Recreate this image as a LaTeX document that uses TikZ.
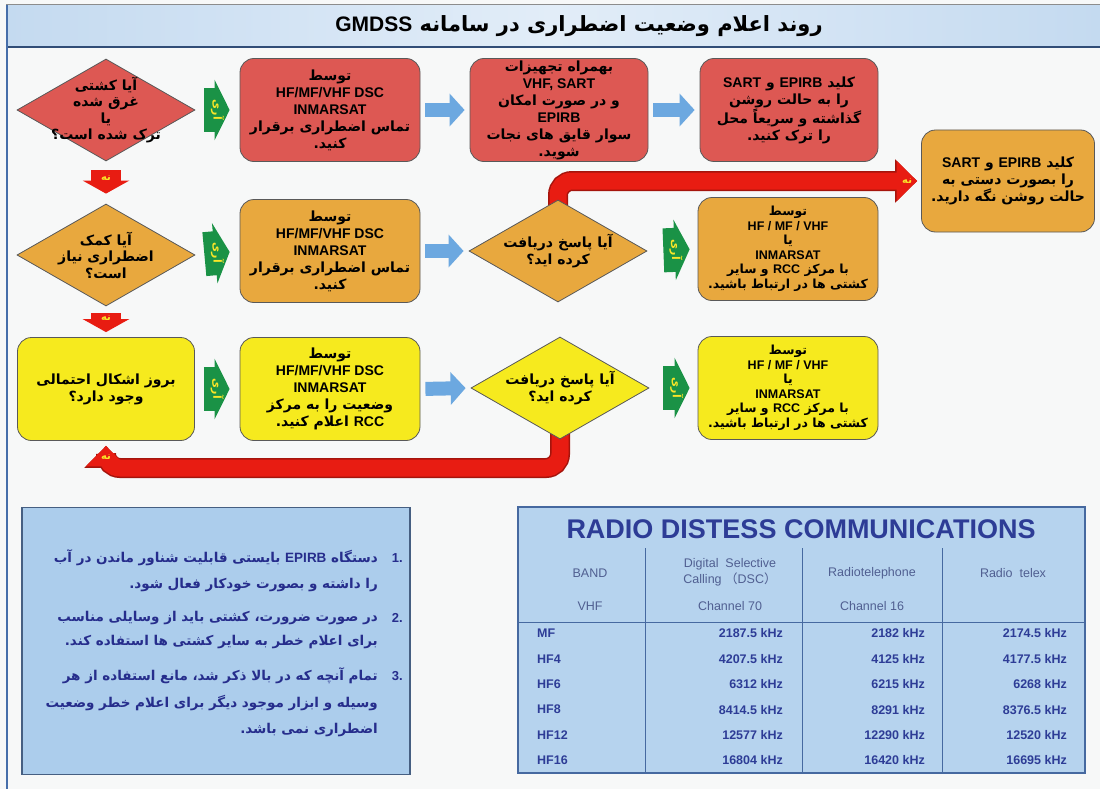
\documentclass[tikz,border=0pt]{standalone}
\usepackage{fontspec}
\setmainfont{Liberation Sans}
\newfontfamily\fa[Script=Arabic]{DejaVu Sans}
\newfontfamily\lat{Liberation Sans}
\newfontfamily\cjk{Noto Sans CJK SC}
\TeXXeTstate=1
\usetikzlibrary{shapes.geometric,arrows.meta}

\newcommand\rtl[1]{\beginR #1\endR}
\newcommand\ltr[1]{\beginL{\lat #1}\endL}

\definecolor{pagebg}{RGB}{247,248,248}
\definecolor{titleblue}{RGB}{196,218,240}
\definecolor{titlelight}{RGB}{226,237,248}
\definecolor{frameblue}{RGB}{70,110,170}
\definecolor{boxred}{RGB}{221,88,83}
\definecolor{boxorange}{RGB}{232,168,62}
\definecolor{boxyellow}{RGB}{246,234,30}
\definecolor{yesgreen}{RGB}{26,146,70}
\definecolor{yeslabel}{RGB}{250,230,40}
\definecolor{noreed}{RGB}{232,28,18}
\definecolor{nodark}{RGB}{165,20,12}
\definecolor{flowblue}{RGB}{108,168,224}
\definecolor{noteblue}{RGB}{172,205,236}
\definecolor{noteborder}{RGB}{70,95,130}
\definecolor{notetxt}{RGB}{38,45,140}
\definecolor{tabfill}{RGB}{182,211,238}
\definecolor{tabline}{RGB}{70,105,160}
\definecolor{tabtxt}{RGB}{45,60,150}
\definecolor{tabhead}{RGB}{80,95,145}

\pgfdeclarelayer{bg}
\pgfdeclarelayer{back}
\pgfsetlayers{bg,back,main}

\begin{document}
\begin{tikzpicture}[x=1pt,y=-1pt,
	box/.style={rectangle,rounded corners=14pt,draw=black!65,line width=0.8pt,
		minimum width=180pt,minimum height=103pt,align=center,inner sep=1pt,
		font=\fa\bfseries\fontsize{14}{17}\selectfont},
	smallbox/.style={box,font=\fa\bfseries\fontsize{12.5}{14.5}\selectfont},
	decision/.style={diamond,draw=black!65,line width=0.8pt,
		minimum width=178pt,minimum height=102pt,inner sep=0pt},
	dtext/.style={align=center,inner sep=0pt,font=\fa\bfseries\fontsize{14}{16.5}\selectfont},
	yes/.style={draw=yesgreen,line width=44pt,-{Triangle[length=15pt,width=60pt]},
		shorten <=9pt,shorten >=10pt},
	yestext/.style={rotate=-90,text=yeslabel,font=\fa\bfseries\fontsize{11}{12}\selectfont},
	no/.style={draw=noreed,line width=30pt,-{Triangle[length=13pt,width=46pt]}},
	longno/.style={draw=noreed,line width=17pt,rounded corners=14pt,
		-{Triangle[length=12pt 0.5,width=22pt 1]},
		preaction={draw=nodark,line width=20pt}},
	notext/.style={text=yeslabel,font=\fa\bfseries\fontsize{10}{11}\selectfont},
	flow/.style={draw=flowblue,line width=14pt,-{Triangle[length=15pt,width=32pt]},
		shorten <=5pt,shorten >=5pt},
	notetext/.style={anchor=east,inner sep=0pt,text=notetxt,
		font=\fa\bfseries\fontsize{13.5}{15}\selectfont},
	notenum/.style={anchor=east,inner sep=0pt,text=notetxt,
		font=\lat\bfseries\fontsize{13}{15}\selectfont},
	head/.style={text=tabhead,align=center,font=\lat\fontsize{12.5}{16}\selectfont},
	cell/.style={text=tabtxt,inner sep=0pt,font=\lat\bfseries\fontsize{12.5}{14}\selectfont}
	]
	\useasboundingbox (0,0) rectangle (1100,789);
	\begin{pgfonlayer}{bg}
		\fill[pagebg] (0,0) rectangle (1100,789);
	\end{pgfonlayer}

	% title bar
	\shade[left color=titleblue,right color=titleblue,middle color=titlelight]
		(6,5) rectangle (1100,47);
	\draw[black!45,line width=1pt] (6,5) -- (1100,5);
	\draw[frameblue!70!black,line width=1.2pt] (6,47) -- (1100,47);
	\draw[frameblue,line width=1.5pt] (7,5) -- (7,789);
	\node[font=\fa\bfseries\fontsize{21}{24}\selectfont] (title) at (579,26)
		{\rtl{روند اعلام وضعیت اضطراری در سامانه \ltr{GMDSS}}};

	% row 1
	\node[decision,fill=boxred] (d1) at (106,110) {};
	\node[dtext] (d1t) at (d1) {\rtl{آیا کشتی}\\ \rtl{غرق شده}\\ \rtl{یا}\\ \rtl{ترک شده است؟}};
	\node[box,fill=boxred] (r1) at (330,110)
		{\rtl{توسط}\\ {\lat HF/MF/VHF DSC}\\ {\lat INMARSAT}\\ \rtl{تماس اضطراری برقرار}\\ \rtl{کنید.}};
	\node[box,fill=boxred,minimum width=178pt] (r2) at (559,110)
		{\rtl{بهمراه تجهیزات}\\ {\lat VHF, SART}\\ \rtl{و در صورت امکان}\\ {\lat EPIRB}\\ \rtl{سوار قایق های نجات}\\ \rtl{شوید.}};
	\node[box,fill=boxred,minimum width=178pt] (r3) at (789,110)
		{\rtl{کلید \ltr{EPIRB} و \ltr{SART}}\\ \rtl{را به حالت روشن}\\ \rtl{گذاشته و سریعاً محل}\\ \rtl{را ترک کنید.}};

	% row 2
	\node[decision,fill=boxorange] (d2) at (106,255) {};
	\node[dtext] (d2t) at (d2) {\rtl{آیا کمک}\\ \rtl{اضطراری نیاز}\\ \rtl{است؟}};
	\node[box,fill=boxorange] (o1) at (330,251)
		{\rtl{توسط}\\ {\lat HF/MF/VHF DSC}\\ {\lat INMARSAT}\\ \rtl{تماس اضطراری برقرار}\\ \rtl{کنید.}};
	\node[decision,fill=boxorange] (d3) at (558,251) {};
	\node[dtext] (d3t) at (d3) {\rtl{آیا پاسخ دریافت}\\ \rtl{کرده اید؟}};
	\node[smallbox,fill=boxorange] (o2) at (788,249)
		{\rtl{توسط}\\ {\lat HF / MF / VHF}\\ \rtl{یا}\\ {\lat INMARSAT}\\ \rtl{با مرکز \ltr{RCC} و سایر}\\ \rtl{کشتی ها در ارتباط باشید.}};
	\node[box,fill=boxorange,minimum width=173pt,minimum height=102pt] (o3) at (1008,181)
		{\rtl{کلید \ltr{EPIRB} و \ltr{SART}}\\ \rtl{را بصورت دستی به}\\ \rtl{حالت روشن نگه دارید.}};

	% row 3
	\node[box,fill=boxyellow,minimum width=177pt] (y1) at (106,389)
		{\rtl{بروز اشکال احتمالی}\\ \rtl{وجود دارد؟}};
	\node[box,fill=boxyellow] (y2) at (330,389)
		{\rtl{توسط}\\ {\lat HF/MF/VHF DSC}\\ {\lat INMARSAT}\\ \rtl{وضعیت را به مرکز}\\ \rtl{\ltr{RCC} اعلام کنید.}};
	\node[decision,fill=boxyellow] (d4) at (560,388) {};
	\node[dtext] (d4t) at (d4) {\rtl{آیا پاسخ دریافت}\\ \rtl{کرده اید؟}};
	\node[smallbox,fill=boxyellow] (y3) at (788,388)
		{\rtl{توسط}\\ {\lat HF / MF / VHF}\\ \rtl{یا}\\ {\lat INMARSAT}\\ \rtl{با مرکز \ltr{RCC} و سایر}\\ \rtl{کشتی ها در ارتباط باشید.}};

	% yes arrows
	\draw[yes] (d1.east) -- (r1.west) node[midway,yestext] (yes1) {\rtl{آری}};
	\draw[yes] (d2.east) -- (o1.west) node[midway,yestext] (yes2) {\rtl{آری}};
	\draw[yes,shorten <=16pt,shorten >=8pt] (d3.east) -- (o2.west)
		node[pos=0.57,yestext] (yes3) {\rtl{آری}};
	\draw[yes] (y1.east) -- (y2.west) node[midway,yestext] (yes4) {\rtl{آری}};
	\draw[yes,shorten <=14pt,shorten >=8pt] (d4.east) -- (y3.west)
		node[pos=0.57,yestext] (yes5) {\rtl{آری}};

	% flow arrows
	\draw[flow] (r1) -- (r2);
	\draw[flow] (r2) -- (r3);
	\draw[flow] (o1.east) -- (d3.west);
	\draw[flow] (y2.east) -- (d4.west);

	% no arrows
	\draw[no,shorten <=9pt,shorten >=10pt] (d1.south) -- (d2.north)
		node[pos=0.4,notext] (no1) {\rtl{نه}};
	\draw[no,shorten <=7pt,shorten >=5pt] (d2.south) -- (y1.north)
		node[pos=0.38,notext] (no2) {\rtl{نه}};
	\begin{pgfonlayer}{back}
		\draw[longno,shorten >=4pt] (d3.center) |- (o3.west)
			node[pos=1,xshift=-14pt,notext] (no3) {\rtl{نه}};
		\draw[longno,shorten >=5pt] (d4.center) -- ++(0,80) -| (y1.south)
			node[pos=1,yshift=-16pt,notext] (no4) {\rtl{نه}};
	\end{pgfonlayer}

	% notes
	\node[draw=noteborder,line width=1.2pt,fill=noteblue,minimum width=388pt,
		minimum height=267pt] (notes) at (216,641) {};
	\node[notenum] (num1) at (403,558) {1.};
	\node[notetext] (n1a) at (378,558) {\rtl{دستگاه \ltr{EPIRB} بایستی قابلیت شناور ماندن در آب}};
	\node[notetext] (n1b) at (378,585) {\rtl{را داشته و بصورت خودکار فعال شود.}};
	\node[notenum] (num2) at (403,618) {2.};
	\node[notetext] (n2a) at (378,618) {\rtl{در صورت ضرورت، کشتی باید از وسایلی مناسب}};
	\node[notetext] (n2b) at (378,642) {\rtl{برای اعلام خطر به سایر کشتی ها استفاده کند.}};
	\node[notenum] (num3) at (403,676) {3.};
	\node[notetext] (n3a) at (378,676) {\rtl{تمام آنچه که در بالا ذکر شد، مانع استفاده از هر}};
	\node[notetext] (n3b) at (378,703) {\rtl{وسیله و ابزار موجود دیگر برای اعلام خطر وضعیت}};
	\node[notetext] (n3c) at (378,730) {\rtl{اضطراری نمی باشد.}};

	% table
	\node[draw=tabline,line width=1.2pt,fill=tabfill,minimum width=567pt,
		minimum height=266pt] (tab) at (801.5,640) {};
	\node[text=tabtxt,font=\lat\bfseries\fontsize{27}{30}\selectfont] (tabtitle)
		at (801,529) {RADIO DISTESS COMMUNICATIONS};
	\draw[tabline,line width=1pt] (tab.west |- 0,622) -- (tab.east |- 0,622);
	\foreach \cx in {645,802,942}
		\draw[tabline,line width=1pt] (\cx,548) -- (\cx,773);
	\node[head] (hband) at (590,573) {BAND};
	\node[head] (hvhf) at (590,606) {VHF};
	\node[head] (hdsc) at (730,572) {Digital\ \ Selective\\ Calling {\cjk （}DSC{\cjk ）}};
	\node[head] (hch70) at (730,606) {Channel 70};
	\node[head] (htel) at (872,573) {Radiotelephone};
	\node[head] (hch16) at (872,606) {Channel 16};
	\node[head] (htelex) at (1013,573) {Radio\ \ telex};
	\foreach \b/\p/\q/\r [count=\i] in {MF/2187.5/2182/2174.5,HF4/4207.5/4125/4177.5,
		HF6/6312/6215/6268,HF8/8414.5/8291/8376.5,HF12/12577/12290/12520,
		HF16/16804/16420/16695}{
		\node[cell,anchor=west] (band\i) at (537,{608+25.4*\i}) {\b};
		\node[cell,anchor=east] (dsc\i) at (783,{608+25.4*\i}) {\p\ kHz};
		\node[cell,anchor=east] (tel\i) at (925,{608+25.4*\i}) {\q\ kHz};
		\node[cell,anchor=east] (telex\i) at (1067,{608+25.4*\i}) {\r\ kHz};
	}
\end{tikzpicture}
\end{document}
